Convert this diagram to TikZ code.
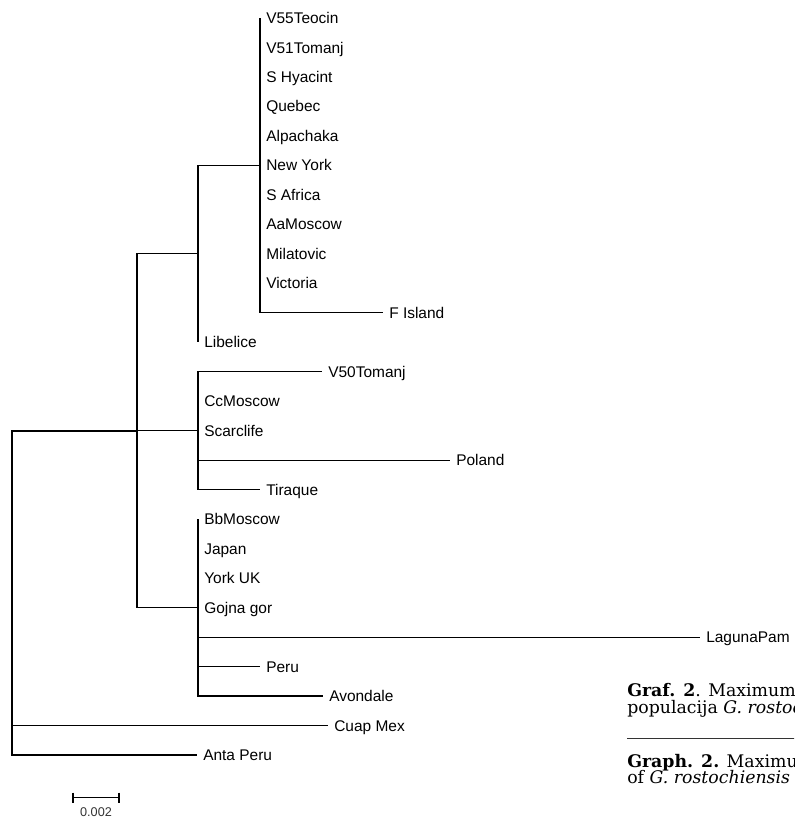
\documentclass[tikz,border=0pt]{standalone}
\usepackage{fontspec}
\setmainfont{Liberation Sans}
\newfontfamily\capserif{DejaVu Serif}
\usetikzlibrary{arrows}

\begin{document}
\begin{tikzpicture}[x=0.75pt, y=-0.75pt,
    branch/.style={line width=0.85pt, color=black},
    taxon/.style={anchor=west, inner xsep=4.5pt, inner ysep=0pt,
        text height=8.3pt, text depth=0pt, font=\fontsize{11.6}{13}\selectfont},
    capline/.style={anchor=base west, inner sep=0pt,
        font=\capserif\fontsize{13}{15}\selectfont}]
    \useasboundingbox (0, 0) rectangle (794, 822);

        % inner nodes of the tree
        \coordinate (root) at (12, 593);
        \coordinate (nA) at (137, 431);
        \coordinate (nB) at (198, 253.8);
        \coordinate (nC) at (198, 430.7);
        \coordinate (nD) at (198, 607.6);
        \coordinate (nE) at (260, 165.4);

        % taxa
        \node[taxon] (v55) at (260, 18) {V55Teocin};
        \node[taxon] (v51) at (260, 47.5) {V51Tomanj};
        \node[taxon] (shya) at (260, 77) {S Hyacint};
        \node[taxon] (queb) at (260, 106.4) {Quebec};
        \node[taxon] (alpa) at (260, 135.9) {Alpachaka};
        \node[taxon] (newy) at (260, 165.4) {New York};
        \node[taxon] (safr) at (260, 194.9) {S Africa};
        \node[taxon] (aamo) at (260, 224.4) {AaMoscow};
        \node[taxon] (mila) at (260, 253.8) {Milatovic};
        \node[taxon] (vict) at (260, 283.3) {Victoria};
        \node[taxon] (fisl) at (383, 312.8) {F Island};
        \node[taxon] (libe) at (198, 342.3) {Libelice};

        \node[taxon] (v50) at (322, 371.8) {V50Tomanj};
        \node[taxon] (ccmo) at (198, 401.2) {CcMoscow};
        \node[taxon] (scar) at (198, 430.7) {Scarclife};
        \node[taxon] (pola) at (450, 460.2) {Poland};
        \node[taxon] (tira) at (260, 489.7) {Tiraque};

        \node[taxon] (bbmo) at (198, 519.2) {BbMoscow};
        \node[taxon] (japa) at (198, 548.6) {Japan};
        \node[taxon] (york) at (198, 578.1) {York UK};
        \node[taxon] (gojn) at (198, 607.6) {Gojna gor};
        \node[taxon] (lagu) at (700, 637.1) {LagunaPam};
        \node[taxon] (peru) at (260, 666.6) {Peru};
        \node[taxon] (avon) at (323, 696) {Avondale};

        \node[taxon] (cuap) at (328, 725.5) {Cuap Mex};
        \node[taxon] (anta) at (197, 755) {Anta Peru};

        % branches
        \draw[branch] (root) |- (nA);
        \draw[branch] (root) |- (cuap.west);
        \draw[branch] (root) |- (anta.west);

        \draw[branch] (nA) |- (nB);
        \draw[branch] (nA) |- (nC);
        \draw[branch] (nA) |- (nD);

        \draw[branch] (nB) |- (nE);
        \draw[branch] (nB) |- (libe.west);

        \foreach \t in {v55, v51, shya, queb, alpa, newy, safr, aamo, mila, vict, fisl}
            \draw[branch] (nE) |- (\t.west);
        \foreach \t in {v50, ccmo, scar, pola, tira}
            \draw[branch] (nC) |- (\t.west);
        \foreach \t in {bbmo, japa, york, gojn, lagu, peru, avon}
            \draw[branch] (nD) |- (\t.west);

        % scale bar
        \coordinate (sbL) at (73, 797.5);
        \coordinate (sbR) at (119, 797.5);
        \draw[branch, line width=0.8pt] (sbL) -- (sbR);
        \draw[branch, line width=0.8pt] (sbL) ++(0, -5) -- ++(0, 10);
        \draw[branch, line width=0.8pt] (sbR) ++(0, -5) -- ++(0, 10);
        \node[font=\fontsize{9.5}{11}\selectfont, text=black!80, inner sep=0pt]
            (sbT) at (96, 812) {0.002};

        % caption, cut off at the right edge
        \begin{scope}
            \clip (0, 0) rectangle (794, 822);
            \node[capline] (cap1) at (627, 696) {\textbf{Graf. 2}. Maximum};
            \node[capline] (cap2) at (627, 713) {populacija \textit{G. rostochiensis}};
            \draw[line width=0.6pt, color=black!80] (627, 738) -- (800, 738);
            \node[capline] (cap3) at (627, 767) {\textbf{Graph. 2.} Maximum};
            \node[capline] (cap4) at (627, 783) {of \textit{G. rostochiensis}};
        \end{scope}
\end{tikzpicture}
\end{document}
